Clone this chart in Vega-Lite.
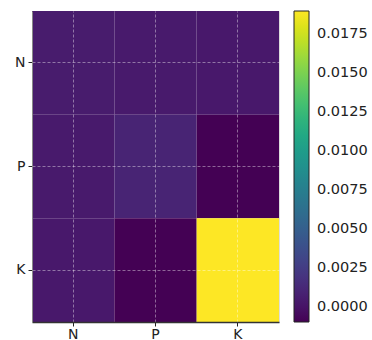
{
  "$schema": "https://vega.github.io/schema/vega-lite/v6.json",
  "width": 247,
  "height": 311,
  "autosize": {"type": "none"},
  "padding": {"left": 32, "top": 11, "right": 93, "bottom": 18},
  "background": "white",
  "config": {
    "font": "DejaVu Sans",
    "view": {"stroke": "#dddddd", "strokeWidth": 1},
    "axis": {"labelFont": "DejaVu Sans", "labelFontSize": 14, "labelColor": "#222222", "tickColor": "#222222", "tickSize": 4, "labelPadding": 3, "titleFontSize": 0}
  },
  "data": {
    "values": [
      {"row": "N", "col": "N", "value": 0.0005},
      {"row": "N", "col": "P", "value": 0.0004},
      {"row": "N", "col": "K", "value": 0.0003},
      {"row": "P", "col": "N", "value": 0.0004},
      {"row": "P", "col": "P", "value": 0.0010},
      {"row": "P", "col": "K", "value": -0.00094},
      {"row": "K", "col": "N", "value": 0.0003},
      {"row": "K", "col": "P", "value": -0.00094},
      {"row": "K", "col": "K", "value": 0.0190}
    ]
  },
  "mark": {"type": "rect"},
  "encoding": {
    "x": {
      "field": "col", "type": "nominal", "sort": ["N", "P", "K"], "title": null,
      "scale": {"paddingInner": 0, "paddingOuter": 0},
      "axis": {"labelAngle": 0, "labelPadding": 1, "grid": true, "gridColor": "white", "gridOpacity": 0.5, "gridDash": [3, 2], "gridWidth": 0.8, "bandPosition": 0.5, "domainColor": "#333333", "domainWidth": 1.5, "zindex": 1}
    },
    "y": {
      "field": "row", "type": "nominal", "sort": ["N", "P", "K"], "title": null,
      "scale": {"paddingInner": 0, "paddingOuter": 0},
      "axis": {"grid": true, "gridColor": "white", "gridOpacity": 0.5, "gridDash": [3, 2], "gridWidth": 0.8, "bandPosition": 0.5, "domainColor": "#888888", "domainWidth": 1, "zindex": 1}
    },
    "color": {
      "field": "value", "type": "quantitative",
      "scale": {"scheme": "viridis", "domain": [-0.00094, 0.0190]},
      "legend": {
        "type": "gradient",
        "title": null,
        "orient": "right",
        "offset": 15,
        "gradientLength": 311,
        "gradientThickness": 15,
        "gradientStrokeColor": "#222222",
        "gradientStrokeWidth": 1,
        "values": [0, 0.0025, 0.005, 0.0075, 0.01, 0.0125, 0.015, 0.0175],
        "format": ".4f",
        "labelFontSize": 14.5,
        "labelFont": "DejaVu Sans",
        "labelColor": "#222222",
        "labelOffset": 8,
        "labelOverlap": false
      }
    }
  }
}
